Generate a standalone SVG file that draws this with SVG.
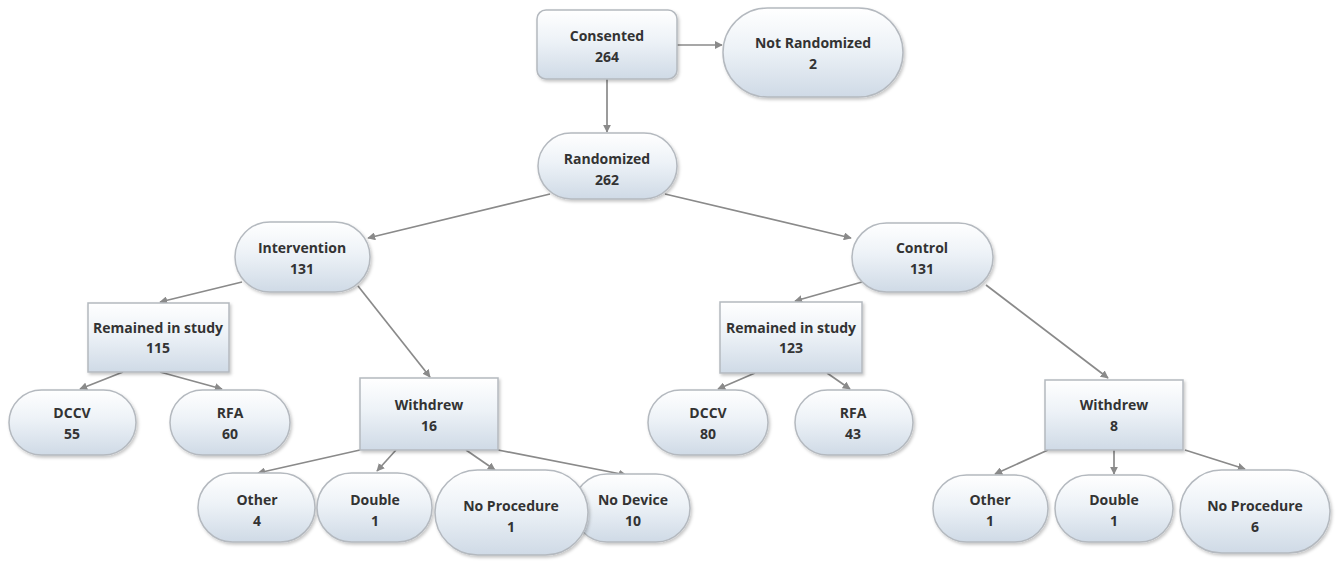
<svg xmlns="http://www.w3.org/2000/svg" width="1339" height="561" viewBox="0 0 1339 561">
<style>
.n{fill:url(#g);stroke:#b4b9bf;stroke-width:1.5;filter:url(#sh)}
.t{font-family:"Open Sans","Liberation Sans",sans-serif;font-weight:700;font-size:14px;fill:#333333;text-anchor:middle}
.c line{stroke:#8a8a8a;stroke-width:1.7;marker-end:url(#a)}
</style>
<defs>
<linearGradient id="g" x1="0" y1="0" x2="0" y2="1">
<stop offset="0" stop-color="#ffffff"/>
<stop offset="0.45" stop-color="#edf2f7"/>
<stop offset="1" stop-color="#cfdae6"/>
</linearGradient>
<filter id="sh" x="-10%" y="-10%" width="125%" height="130%">
<feDropShadow dx="1.5" dy="2" stdDeviation="1.5" flood-color="#000" flood-opacity="0.22"/>
</filter>
<marker id="a" viewBox="0 0 10 10" refX="9" refY="5" markerWidth="8" markerHeight="8" markerUnits="userSpaceOnUse" orient="auto">
<path d="M0,0 L10,5 L0,10 z" fill="#8a8a8a"/>
</marker>
</defs>
<rect width="1339" height="561" fill="#ffffff"/>
<g class="c" id="connectors">
<line x1="677" y1="45" x2="722" y2="45"/>
<line x1="607" y1="79" x2="607" y2="132"/>
<line x1="550" y1="194" x2="368" y2="238"/>
<line x1="665" y1="194" x2="851" y2="238"/>
<line x1="242" y1="282" x2="160" y2="302"/>
<line x1="358" y1="286" x2="430" y2="377"/>
<line x1="123" y1="372" x2="80" y2="389"/>
<line x1="160" y1="372" x2="222" y2="389"/>
<line x1="862" y1="282" x2="795" y2="301"/>
<line x1="986" y1="285" x2="1108" y2="378"/>
<line x1="755" y1="373" x2="718" y2="389"/>
<line x1="827" y1="373" x2="850" y2="389"/>
<line x1="360" y1="450" x2="258" y2="473"/>
<line x1="396" y1="450" x2="377" y2="471"/>
<line x1="466" y1="450" x2="495" y2="470"/>
<line x1="498" y1="450" x2="626" y2="475"/>
<line x1="1048" y1="450" x2="995" y2="474"/>
<line x1="1114" y1="450" x2="1114" y2="474"/>
<line x1="1185" y1="450" x2="1245" y2="469"/>
</g>
<g id="consented"><rect class="n" x="537" y="10" width="140" height="69" rx="9"/><text class="t" x="607" y="41">Consented</text><text class="t" x="607" y="62">264</text></g>
<g id="not-randomized"><rect class="n" x="723" y="8" width="180" height="89" rx="44.5"/><text class="t" x="813" y="48">Not Randomized</text><text class="t" x="813" y="69">2</text></g>
<g id="randomized"><rect class="n" x="538" y="133" width="139" height="66" rx="33"/><text class="t" x="607" y="164">Randomized</text><text class="t" x="607" y="185">262</text></g>
<g id="intervention"><rect class="n" x="235" y="222" width="135" height="70" rx="35"/><text class="t" x="302" y="253">Intervention</text><text class="t" x="302" y="274">131</text></g>
<g id="control"><rect class="n" x="852" y="223" width="141" height="69" rx="34.5"/><text class="t" x="922" y="253">Control</text><text class="t" x="922" y="274">131</text></g>
<g id="remained-115"><rect class="n" x="88" y="303" width="141" height="69"/><text class="t" x="158" y="333">Remained in study</text><text class="t" x="158" y="353">115</text></g>
<g id="remained-123"><rect class="n" x="720" y="302" width="142" height="71"/><text class="t" x="791" y="333">Remained in study</text><text class="t" x="791" y="353">123</text></g>
<g id="withdrew-16"><rect class="n" x="360" y="378" width="138" height="72"/><text class="t" x="429" y="410">Withdrew</text><text class="t" x="429" y="431">16</text></g>
<g id="withdrew-8"><rect class="n" x="1045" y="380" width="138" height="70"/><text class="t" x="1114" y="410">Withdrew</text><text class="t" x="1114" y="431">8</text></g>
<g id="dccv-55"><rect class="n" x="9" y="390" width="127" height="65" rx="32.5"/><text class="t" x="72" y="418">DCCV</text><text class="t" x="72" y="439">55</text></g>
<g id="rfa-60"><rect class="n" x="170" y="390" width="120" height="65" rx="32.5"/><text class="t" x="230" y="418">RFA</text><text class="t" x="230" y="439">60</text></g>
<g id="dccv-80"><rect class="n" x="648" y="390" width="120" height="65" rx="32.5"/><text class="t" x="708" y="418">DCCV</text><text class="t" x="708" y="439">80</text></g>
<g id="rfa-43"><rect class="n" x="795" y="390" width="118" height="65" rx="32.5"/><text class="t" x="853" y="418">RFA</text><text class="t" x="853" y="439">43</text></g>
<g id="other-4"><rect class="n" x="198" y="473" width="117" height="69" rx="34.5"/><text class="t" x="257" y="505">Other</text><text class="t" x="257" y="526">4</text></g>
<g id="double-1a"><rect class="n" x="317" y="473" width="115" height="69" rx="34.5"/><text class="t" x="375" y="505">Double</text><text class="t" x="375" y="526">1</text></g>
<g id="no-device-10"><rect class="n" x="573" y="474" width="117" height="68" rx="34"/><text class="t" x="633" y="505">No Device</text><text class="t" x="633" y="526">10</text></g>
<g id="no-procedure-1"><rect class="n" x="435" y="470" width="153" height="85" rx="42.5"/><text class="t" x="511" y="511">No Procedure</text><text class="t" x="511" y="532">1</text></g>
<g id="other-1"><rect class="n" x="933" y="475" width="115" height="67" rx="33.5"/><text class="t" x="990" y="505">Other</text><text class="t" x="990" y="526">1</text></g>
<g id="double-1b"><rect class="n" x="1055" y="475" width="118" height="67" rx="33.5"/><text class="t" x="1114" y="505">Double</text><text class="t" x="1114" y="526">1</text></g>
<g id="no-procedure-6"><rect class="n" x="1180" y="470" width="150" height="83" rx="41.5"/><text class="t" x="1255" y="511">No Procedure</text><text class="t" x="1255" y="532">6</text></g>
</svg>
